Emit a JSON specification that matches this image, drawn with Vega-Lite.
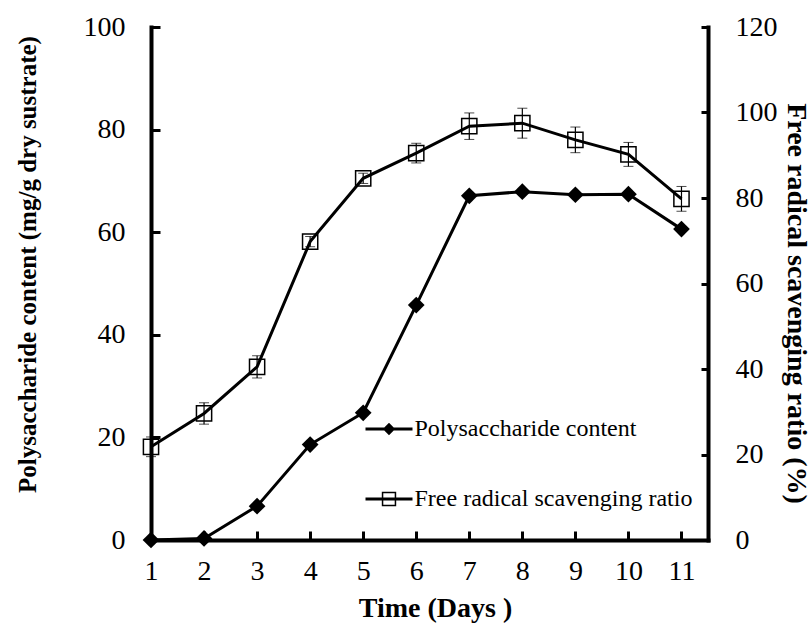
{
  "$schema": "https://vega.github.io/schema/vega-lite/v6.json",
  "width": 557,
  "height": 513,
  "autosize": {"type": "none"},
  "padding": {"left": 151, "top": 27, "right": 103, "bottom": 83},
  "background": "white",
  "data": {
    "values": [
      {"day": 1, "poly": 0.0, "fr": 21.8, "err": 2.3},
      {"day": 2, "poly": 0.3, "fr": 29.6, "err": 2.5},
      {"day": 3, "poly": 6.6, "fr": 40.5, "err": 2.6},
      {"day": 4, "poly": 18.6, "fr": 69.8, "err": 1.2},
      {"day": 5, "poly": 24.8, "fr": 84.6, "err": 1.2},
      {"day": 6, "poly": 45.8, "fr": 90.5, "err": 2.3},
      {"day": 7, "poly": 67.1, "fr": 96.8, "err": 3.1},
      {"day": 8, "poly": 67.9, "fr": 97.5, "err": 3.5},
      {"day": 9, "poly": 67.3, "fr": 93.6, "err": 3.0},
      {"day": 10, "poly": 67.4, "fr": 90.2, "err": 2.8},
      {"day": 11, "poly": 60.6, "fr": 79.8, "err": 2.9}
    ]
  },
  "layer": [
    {
      "encoding": {
        "x": {
          "field": "day", "type": "quantitative",
          "scale": {"domain": [1, 11.5], "nice": false, "zero": false},
          "axis": {
            "title": "Time (Days )",
            "values": [1, 2, 3, 4, 5, 6, 7, 8, 9, 10, 11],
            "tickSize": -9, "labelPadding": 26,
            "labelFont": "Liberation Serif", "titleFont": "Liberation Serif",
            "titleX": 284, "titleY": 76, "titleBaseline": "alphabetic"
          }
        },
        "y": {
          "field": "poly", "type": "quantitative",
          "scale": {"domain": [0, 100], "nice": false},
          "axis": {
            "title": "Polysaccharide content (mg/g dry sustrate)",
            "values": [0, 20, 40, 60, 80, 100],
            "tickSize": -9, "labelPadding": 35,
            "labelFont": "Liberation Serif", "titleFont": "Liberation Serif",
            "titleFontSize": 25,
            "titleX": -116, "titleY": 237, "titleAngle": 270,
            "titleBaseline": "alphabetic", "titleAlign": "center"
          }
        }
      },
      "layer": [
        {"mark": {"type": "line", "color": "black", "strokeWidth": 3}},
        {"mark": {"type": "point", "shape": "diamond", "filled": true, "color": "black", "size": 280, "opacity": 1}},
        {
          "mark": {"type": "point", "filled": true, "color": "black", "opacity": 0, "size": 1},
          "encoding": {
            "shape": {
              "datum": "Polysaccharide content",
              "scale": {
                "domain": ["Polysaccharide content", "Free radical scavenging ratio"],
                "range": [
                  "M-2.35,-0.15H2.35V0.15H-2.35ZM0,-0.62L0.62,0L0,0.62L-0.62,0Z",
                  "M-2.35,-0.15H2.35V0.15H-2.35ZM-0.72,-0.72H0.72V0.72H-0.72ZM-0.57,-0.57V0.57H0.57V-0.57Z"
                ]
              },
              "legend": {
                "orient": "none", "legendX": 226, "legendY": 390,
                "title": null, "symbolSize": 400, "labelOffset": 13.5,
                "symbolOpacity": 1, "symbolFillColor": "black", "symbolStrokeColor": "black", "symbolStrokeWidth": 0,
                "labelFont": "Liberation Serif", "labelFontSize": 24, "labelColor": "black",
                "labelLimit": 500, "rowPadding": 46, "padding": 0, "direction": "vertical"
              }
            }
          }
        }
      ]
    },
    {
      "encoding": {
        "x": {"field": "day", "type": "quantitative"},
        "y": {
          "field": "fr", "type": "quantitative",
          "scale": {"domain": [0, 120], "nice": false},
          "axis": {
            "orient": "right",
            "title": "Free radical scavenging ratio (%)",
            "values": [0, 20, 40, 60, 80, 100, 120],
            "tickSize": -7, "labelPadding": 34,
            "labelFont": "Liberation Serif", "titleFont": "Liberation Serif",
            "titleX": 79, "titleY": 276, "titleAngle": 90,
            "titleBaseline": "alphabetic", "titleAlign": "center"
          }
        }
      },
      "layer": [
        {
          "mark": {"type": "errorbar", "color": "black", "ticks": {"size": 10, "color": "black", "strokeWidth": 1.2}, "rule": {"strokeWidth": 1.2, "color": "black"}},
          "encoding": {"yError": {"field": "err"}}
        },
        {"mark": {"type": "line", "color": "black", "strokeWidth": 3}},
        {"mark": {"type": "point", "shape": "square", "filled": false, "color": "black", "fill": "transparent", "strokeWidth": 1.5, "size": 231, "opacity": 1}}
      ]
    }
  ],
  "resolve": {"scale": {"y": "independent"}, "axis": {"y": "independent"}},
  "config": {
    "view": {"stroke": null},
    "axis": {
      "labelFont": "Liberation Serif", "labelFontSize": 28, "labelColor": "black",
      "titleFont": "Liberation Serif", "titleFontSize": 28, "titleFontWeight": "bold", "titleColor": "black",
      "domainColor": "black", "domainWidth": 4, "domainCap": "square",
      "tickColor": "black", "tickWidth": 3, "grid": false,
      "labelFlush": false, "labelOverlap": false
    }
  }
}
